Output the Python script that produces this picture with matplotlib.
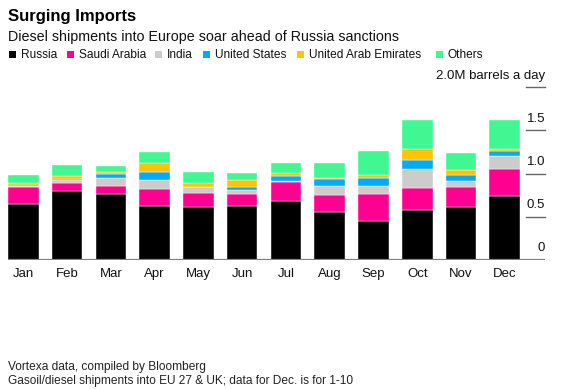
import matplotlib
matplotlib.use("Agg")
import matplotlib.pyplot as plt
import matplotlib.transforms as mtransforms
from matplotlib.patches import Rectangle
import numpy as np

plt.rcParams['font.family'] = ['Liberation Sans', 'DejaVu Sans']

months = ["Jan", "Feb", "Mar", "Apr", "May", "Jun", "Jul", "Aug", "Sep", "Oct", "Nov", "Dec"]
series_names = ["Russia", "Saudi Arabia", "India", "United States", "United Arab Emirates", "Others"]
russia = [0.644, 0.802, 0.768, 0.621, 0.613, 0.621, 0.687, 0.559, 0.455, 0.575, 0.613, 0.745]
saudi  = [0.205, 0.093, 0.085, 0.201, 0.166, 0.147, 0.220, 0.197, 0.313, 0.254, 0.228, 0.304]
india  = [0.011, 0.035, 0.092, 0.104, 0.062, 0.046, 0.005, 0.104, 0.085, 0.224, 0.077, 0.159]
us     = [0.004, 0.005, 0.050, 0.093, 0.008, 0.027, 0.064, 0.074, 0.092, 0.108, 0.070, 0.050]
uae    = [0.023, 0.040, 0.024, 0.100, 0.046, 0.085, 0.031, 0.015, 0.035, 0.128, 0.054, 0.031]
others = [0.093, 0.127, 0.073, 0.131, 0.127, 0.085, 0.120, 0.178, 0.282, 0.335, 0.200, 0.328]
y_ticks = [0, 0.5, 1.0, 1.5, 2.0]
y_tick_labels = ["0", "0.5", "1.0", "1.5", "2.0M barrels a day"]

colors = ["#000000", "#FF0090", "#CCCCCC", "#00AAFF", "#FFC400", "#40F791"]

W, H = 576, 389
fig = plt.figure(figsize=(W / 100, H / 100), dpi=100)
ax = fig.add_axes([8 / W, (H - 260) / H, (545 - 8) / W, (260 - 87.2) / H])

x = np.arange(len(months))
bottom = np.zeros(len(months))
for vals, c in zip([russia, saudi, india, us, uae, others], colors):
    v = np.array(vals)
    ax.bar(x, v, bottom=bottom, width=0.70, color=c, edgecolor="white", linewidth=0.3, zorder=2)
    bottom += v

ax.set_xlim(-0.35, 11.92)
ax.set_ylim(0, 2.0)
ax.axis("off")

# baseline
ax.axhline(0, color="#808080", lw=1.6, zorder=3)
# right tick lines and labels
for t, lab in zip(y_ticks, y_tick_labels):
    if t > 0:
        ax.plot([11.49, 11.92], [t, t], color="#666666", lw=1.0, clip_on=False)
    off = mtransforms.offset_copy(ax.transData, fig=fig, x=0, y=4, units="points")
    ax.text(11.92, t, lab, transform=off, ha="right", va="bottom", fontsize=9.5, color="#111111")

# month labels
for xi, m in zip(x, months):
    ax.text(xi, 0, m, transform=mtransforms.offset_copy(ax.transData, fig=fig, x=0, y=-6, units="points"),
            ha="center", va="top", fontsize=9.5, color="#111111")

# title/subtitle
fig.text(8 / W, 1 - 16 / H, "Surging Imports", fontsize=12, fontweight="bold", ha="left", va="center")
fig.text(8 / W, 1 - 37 / H, "Diesel shipments into Europe soar ahead of Russia sanctions", fontsize=10.25,
         ha="left", va="center", color="#111111")

# legend
leg_x = [9, 67, 155, 203, 297, 436]
for lx, name, c in zip(leg_x, series_names, colors):
    fig.patches.append(Rectangle((lx / W, 1 - 58 / H), 7 / W, 7 / H, transform=fig.transFigure,
                                 facecolor=c, edgecolor="none"))
    fig.text((lx + 12) / W, 1 - 54.5 / H, name, fontsize=8.6, ha="left", va="center", color="#111111")

# footer
fig.text(8 / W, 1 - 367 / H, "Vortexa data, compiled by Bloomberg", fontsize=8.6, ha="left", va="center", color="#222222")
fig.text(8 / W, 1 - 381 / H, "Gasoil/diesel shipments into EU 27 & UK; data for Dec. is for 1-10", fontsize=8.6,
         ha="left", va="center", color="#222222")

fig.savefig("out.png", dpi=100)
